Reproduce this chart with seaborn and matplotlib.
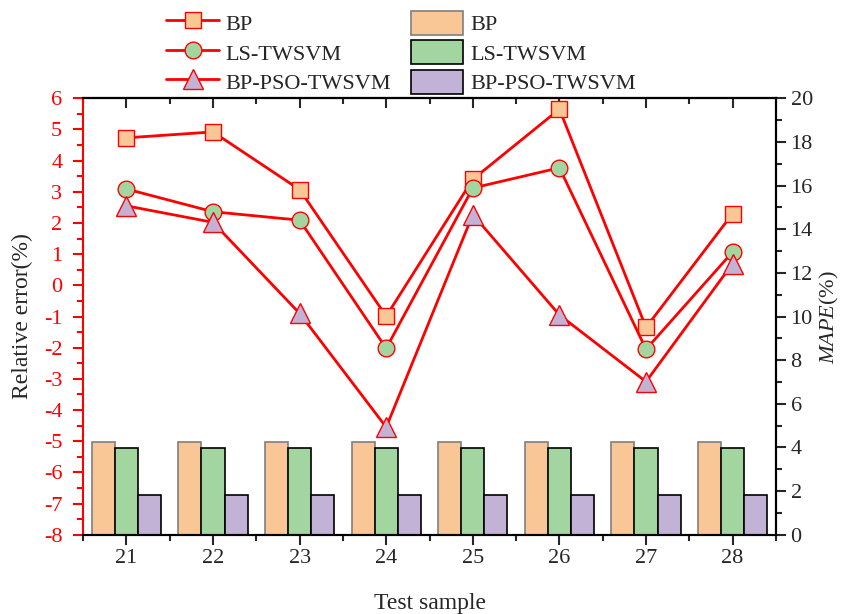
import matplotlib
matplotlib.use('Agg')
import matplotlib.pyplot as plt
from matplotlib.lines import Line2D
from matplotlib.patches import Patch
from matplotlib.ticker import MultipleLocator
import pandas as pd
import seaborn as sns

samples = [21, 22, 23, 24, 25, 26, 27, 28]
models = ['BP', 'LS-TWSVM', 'BP-PSO-TWSVM']
err_bp = [4.73, 4.92, 3.07, -0.99, 3.40, 5.65, -1.35, 2.30]
err_ls = [3.09, 2.36, 2.09, -2.02, 3.12, 3.77, -2.05, 1.07]
err_pso = [2.55, 2.02, -0.90, -4.55, 2.27, -0.95, -3.09, 0.70]
mape_bp = [4.25] * 8
mape_ls = [3.96] * 8
mape_pso = [1.82] * 8

fills = ['#F9C795', '#A2D59F', '#C2B2D6']
bar_edges = ['#7f7f7f', 'black', 'black']
markers = ['s', 'o', '^']
msizes = [12, 12, 14]

sns.set_style('ticks')
plt.rcParams['font.family'] = ['Liberation Serif', 'DejaVu Serif']
plt.rcParams['font.size'] = 16
plt.rcParams['axes.unicode_minus'] = False
plt.rcParams['mathtext.fontset'] = 'custom'
plt.rcParams['mathtext.it'] = 'Liberation Serif:italic'
plt.rcParams['mathtext.rm'] = 'Liberation Serif'

errs = pd.DataFrame({'sample': samples * 3,
                     'model': sum([[m] * 8 for m in models], []),
                     'err': err_bp + err_ls + err_pso})
mape = pd.DataFrame({'sample': samples * 3,
                     'model': sum([[m] * 8 for m in models], []),
                     'mape': mape_bp + mape_ls + mape_pso})

fig = plt.figure(figsize=(8.48, 6.14), dpi=100)
ax = fig.add_axes([0.098, 0.129, 0.817, 0.711])
ax2 = ax.twinx()

# bars on the right axis
sns.barplot(data=mape, x='sample', y='mape', hue='model', hue_order=models,
            palette=fills, native_scale=True, width=0.8, saturation=1,
            edgecolor='black', linewidth=1.2, legend=False, ax=ax2)
for bars, ec in zip(ax2.containers, bar_edges):
    for p in bars:
        p.set_edgecolor(ec)

# lines on the left axis, drawn above the bars
for m, mk, fc, ms in zip(models, markers, fills, msizes):
    sns.lineplot(data=errs[errs.model == m], x='sample', y='err', ax=ax,
                 color='red', lw=2, marker=mk, markersize=ms,
                 markerfacecolor=fc, markeredgecolor='red', markeredgewidth=1)
ax.set_zorder(ax2.get_zorder() + 1)
ax.patch.set_visible(False)

ax.set_xlim(20.5, 28.5)
ax.set_ylim(-8, 6)
ax2.set_ylim(0, 20)
ax.set_xticks(samples)
ax.xaxis.set_minor_locator(MultipleLocator(0.5))
ax.yaxis.set_major_locator(MultipleLocator(1))
ax.yaxis.set_minor_locator(MultipleLocator(0.5))
ax2.yaxis.set_major_locator(MultipleLocator(2))
ax2.yaxis.set_minor_locator(MultipleLocator(1))

ax.tick_params(axis='y', which='both', colors='red', direction='out', labelsize=16)
ax.tick_params(axis='y', which='major', length=7, width=1.5, pad=8)
ax.tick_params(axis='y', which='minor', length=4, width=1.5)
ax.tick_params(axis='x', which='major', length=7, width=1.5, direction='out', labelsize=16)
ax.tick_params(axis='x', which='minor', length=4, width=1.5, direction='out')
ax2.tick_params(axis='y', which='major', length=7, width=1.5, labelsize=16)
ax2.tick_params(axis='y', which='minor', length=4, width=1.5)

top = ax.secondary_xaxis('top')
top.set_xticks(samples)
top.xaxis.set_minor_locator(MultipleLocator(0.5))
top.tick_params(which='both', direction='in', labeltop=False, width=1.5)
top.tick_params(which='major', length=7)
top.tick_params(which='minor', length=4)

for a in (ax, ax2):
    for s in a.spines.values():
        s.set_linewidth(1.5)
        s.set_color('black')
ax.spines['left'].set_color('red')
ax2.spines['left'].set_visible(False)
top.spines['top'].set_linewidth(1.5)

ax.set_xlabel('Test sample', fontsize=17, labelpad=18)
ax.set_ylabel('Relative error(%)', fontsize=17, labelpad=8)
ax2.set_ylabel(r'$\mathit{MAPE}$(%)', fontsize=16, labelpad=4)

line_h = [Line2D([], [], color='red', lw=2, marker=mk, markersize=ms,
                 markerfacecolor=fc, markeredgecolor='red')
          for mk, fc, ms in zip(markers, fills, msizes)]
bar_h = [Patch(facecolor=fc, edgecolor=ec, linewidth=1.2)
         for fc, ec in zip(fills, bar_edges)]
fig.legend(line_h + bar_h, models + models, ncol=2, frameon=False,
           loc='upper left', bbox_to_anchor=(0.178, 1.008), fontsize=16,
           handlelength=2.35, handleheight=1.3, columnspacing=0.9,
           labelspacing=0.22, handletextpad=0.3, borderpad=0.2)

fig.savefig('out.png', dpi=100)
